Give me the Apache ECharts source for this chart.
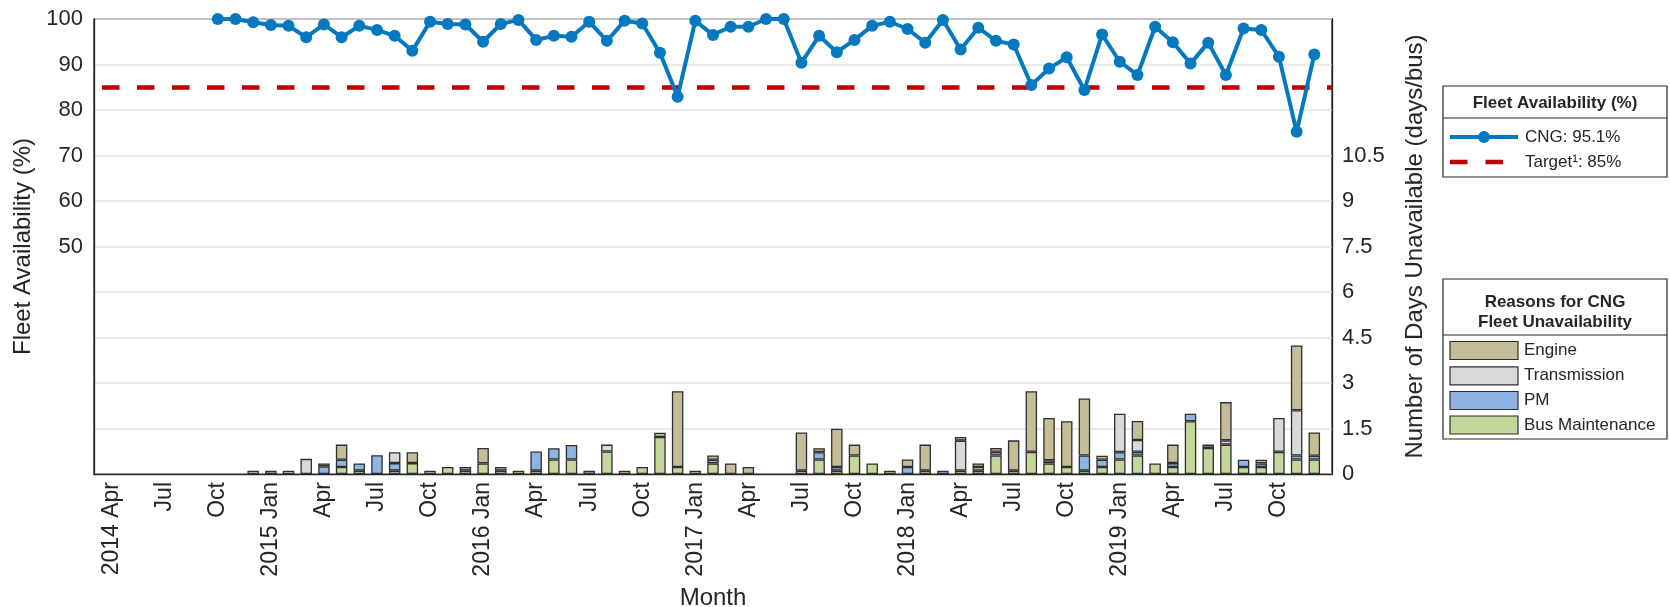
<!DOCTYPE html>
<html>
<head>
<meta charset="utf-8">
<script src="https://cdn.jsdelivr.net/npm/echarts@6/dist/echarts.min.js"></script>
<style>
  html, body { margin: 0; padding: 0; background: #fff; }
  #chart { width: 1670px; height: 607px; }
</style>
</head>
<body>
<div id="chart"></div>
<script>
// months on the x axis (Mar 2014 .. Jan 2020, ends are empty padding)
const months = [
  '2014-03', '2014-04', '2014-05', '2014-06', '2014-07', '2014-08', '2014-09', '2014-10', '2014-11', '2014-12',
  '2015-01', '2015-02', '2015-03', '2015-04', '2015-05', '2015-06', '2015-07', '2015-08', '2015-09', '2015-10', '2015-11', '2015-12',
  '2016-01', '2016-02', '2016-03', '2016-04', '2016-05', '2016-06', '2016-07', '2016-08', '2016-09', '2016-10', '2016-11', '2016-12',
  '2017-01', '2017-02', '2017-03', '2017-04', '2017-05', '2017-06', '2017-07', '2017-08', '2017-09', '2017-10', '2017-11', '2017-12',
  '2018-01', '2018-02', '2018-03', '2018-04', '2018-05', '2018-06', '2018-07', '2018-08', '2018-09', '2018-10', '2018-11', '2018-12',
  '2019-01', '2019-02', '2019-03', '2019-04', '2019-05', '2019-06', '2019-07', '2019-08', '2019-09', '2019-10', '2019-11', '2019-12',
  '2020-01'
];
const monthNames = ['Jan', 'Feb', 'Mar', 'Apr', 'May', 'Jun', 'Jul', 'Aug', 'Sep', 'Oct', 'Nov', 'Dec'];
const n = null;

// fleet availability (%)
const availability = [
  n, n, n, n, n, n, n, 100, 100, 99.3,
  98.7, 98.5, 96.0, 98.8, 96.0, 98.5, 97.6, 96.3, 93.0, 99.4, 98.9, 98.8,
  95.0, 98.9, 99.8, 95.4, 96.3, 96.1, 99.4, 95.2, 99.6, 99.0, 92.6, 82.9,
  99.6, 96.5, 98.3, 98.3, 100, 100, 90.4, 96.3, 92.7, 95.4, 98.5, 99.4,
  97.8, 94.8, 99.8, 93.3, 98.1, 95.2, 94.4, 85.5, 89.1, 91.6, 84.4, 96.6,
  90.6, 87.7, 98.3, 94.9, 90.2, 94.8, 87.7, 97.9, 97.6, 91.7, 75.2, 92.2,
  n
];
const target = 85;

// days unavailable per bus, by reason
const busMaintenance = [
  n, n, n, n, n, n, n, n, n, n,
  n, n, n, n, 0.23, 0.11, n, 0.11, 0.36, 0.11, 0.23, 0.11,
  0.35, 0.11, 0.11, 0.11, 0.48, 0.48, n, 0.74, 0.11, 0.23, 1.22, 0.23,
  0.11, 0.35, n, n, n, n, 0.11, 0.48, 0.11, 0.61, 0.35, 0.11,
  n, 0.11, n, 0.11, 0.11, 0.61, 0.11, 0.73, 0.35, 0.23, 0.11, 0.23,
  0.48, 0.61, 0.35, 0.23, 1.74, 0.86, 0.97, 0.23, 0.23, 0.73, 0.48, 0.48,
  n
];
const pm = [
  n, n, n, n, n, n, n, n, n, n,
  0.11, n, n, 0.25, 0.24, 0.24, 0.62, 0.25, n, n, n, 0.12,
  n, 0.12, n, 0.63, 0.37, 0.48, 0.11, n, n, n, n, n,
  n, 0.12, n, n, n, n, n, 0.24, 0.12, n, n, n,
  0.23, n, 0.11, n, n, 0.12, n, n, n, n, 0.5, 0.24,
  0.24, 0.12, n, 0.13, 0.25, n, n, 0.24, 0.12, n, 0.13, 0.12,
  n
];
const transmission = [
  n, n, n, n, n, n, n, n, n, 0.11,
  n, 0.11, 0.5, n, n, n, n, 0.36, n, n, n, n,
  n, n, n, n, n, n, n, 0.23, n, n, n, n,
  n, n, n, n, n, n, n, n, n, n, n, n,
  n, n, n, 0.99, 0.12, n, n, n, 0.1, n, n, n,
  1.27, 0.39, n, n, n, n, 0.14, n, n, 1.12, 1.49, n,
  n
];
const engine = [
  n, n, n, n, n, n, n, n, n, n,
  n, n, n, 0.1, 0.5, n, n, n, 0.36, n, n, n,
  0.51, n, n, n, n, n, n, n, n, n, 0.14, 2.5,
  n, 0.14, 0.35, 0.23, n, n, 1.26, 0.13, 1.26, 0.36, n, n,
  0.25, 0.86, n, 0.12, 0.12, 0.13, 1.0, 2.0, 1.4, 1.51, 1.88, 0.13,
  n, 0.63, n, 0.61, n, 0.11, 1.26, n, 0.12, n, 2.14, 0.77,
  n
];

const FONT = "'Liberation Sans', Arial, sans-serif";
const TXT = '#262626';
const COLORS = {
  cng: '#0479BF',
  target: '#C00000',
  engine: '#C4BD97',
  transmission: '#D9D9D9',
  pm: '#8DB4E2',
  busMaintenance: '#C4D79B'
};

function barSeries(name, data, color) {
  return {
    name: name,
    type: 'bar',
    stack: 'days',
    yAxisIndex: 1,
    data: data,
    barWidth: 11.5,
    itemStyle: { color: color, borderColor: '#2e2e2e', borderWidth: 1.3 },
    z: 2
  };
}

// legend boxes drawn by hand (MATLAB style)
const LX = 1443, LW = 224;
const legendGraphics = [
  { type: 'rect', shape: { x: LX, y: 86, width: LW, height: 91 },
    style: { fill: '#fff', stroke: '#262626', lineWidth: 1.2 } },
  { type: 'text', style: { text: 'Fleet Availability (%)', x: LX + LW / 2, y: 103, font: 'bold 17px ' + FONT,
    fill: TXT, align: 'center', verticalAlign: 'middle' } },
  { type: 'line', shape: { x1: LX, y1: 118, x2: LX + LW, y2: 118 }, style: { stroke: '#262626', lineWidth: 1.2 } },
  { type: 'line', shape: { x1: 1450, y1: 137, x2: 1518, y2: 137 }, style: { stroke: COLORS.cng, lineWidth: 4 } },
  { type: 'circle', shape: { cx: 1484, cy: 137, r: 6 }, style: { fill: COLORS.cng } },
  { type: 'text', style: { text: 'CNG: 95.1%', x: 1525, y: 137, font: '17px ' + FONT, fill: TXT, align: 'left', verticalAlign: 'middle' } },
  { type: 'line', shape: { x1: 1450, y1: 162, x2: 1518, y2: 162 },
    style: { stroke: COLORS.target, lineWidth: 4.5, lineDash: [17.5, 18] } },
  { type: 'text', style: { text: 'Target\u00B9: 85%', x: 1525, y: 162, font: '17px ' + FONT, fill: TXT, align: 'left', verticalAlign: 'middle' } },

  { type: 'rect', shape: { x: LX, y: 279, width: LW, height: 160 },
    style: { fill: '#fff', stroke: '#262626', lineWidth: 1.2 } },
  { type: 'text', style: { text: 'Reasons for CNG', x: LX + LW / 2, y: 302, font: 'bold 17px ' + FONT,
    fill: TXT, align: 'center', verticalAlign: 'middle' } },
  { type: 'text', style: { text: 'Fleet Unavailability', x: LX + LW / 2, y: 322, font: 'bold 17px ' + FONT,
    fill: TXT, align: 'center', verticalAlign: 'middle' } },
  { type: 'line', shape: { x1: LX, y1: 335, x2: LX + LW, y2: 335 }, style: { stroke: '#262626', lineWidth: 1.2 } }
];
[['Engine', COLORS.engine, 350.5], ['Transmission', COLORS.transmission, 375.8],
 ['PM', COLORS.pm, 400.5], ['Bus Maintenance', COLORS.busMaintenance, 425]].forEach(function (it) {
  legendGraphics.push({ type: 'rect', shape: { x: 1450, y: it[2] - 9, width: 68, height: 18 },
    style: { fill: it[1], stroke: '#2e2e2e', lineWidth: 1.2 } });
  legendGraphics.push({ type: 'text', style: { text: it[0], x: 1524, y: it[2], font: '17px ' + FONT,
    fill: TXT, align: 'left', verticalAlign: 'middle' } });
});

const chart = echarts.init(document.getElementById('chart'));
chart.setOption({
  animation: false,
  backgroundColor: '#fff',
  textStyle: { fontFamily: FONT },
  grid: { left: 94, right: 338, top: 19, bottom: 133, show: true, borderColor: '#262626', borderWidth: 1.3,
    containLabel: false, outerBoundsMode: 'none' },
  xAxis: {
    type: 'category',
    data: months,
    boundaryGap: false,
    axisLine: { lineStyle: { color: '#262626', width: 1.3 } },
    axisTick: { show: false },
    axisLabel: {
      rotate: 90,
      fontSize: 23,
      color: TXT,
      margin: 8,
      interval: function (idx) { return idx >= 1 && idx < months.length - 1 && (idx - 1) % 3 === 0; },
      formatter: function (v, idx) {
        const y = v.slice(0, 4), m = +v.slice(5, 7);
        const label = monthNames[m - 1];
        return (m === 1 || idx === 1) ? y + ' ' + label : label;
      }
    },
    splitLine: { show: false },
    name: 'Month',
    nameLocation: 'middle',
    nameGap: 112,
    nameTextStyle: { fontSize: 24, color: TXT }
  },
  yAxis: [
    {
      type: 'value',
      min: 0, max: 100, interval: 10,
      axisLine: { show: true, lineStyle: { color: '#262626', width: 1.3 } },
      axisTick: { show: false },
      axisLabel: { fontSize: 22, color: TXT, margin: 11,
        formatter: function (v) { return v >= 50 ? String(v) : ''; } },
      splitLine: { lineStyle: { color: '#E3E3E3', width: 1.5 } },
      name: 'Fleet Availability (%)',
      nameLocation: 'middle',
      nameGap: 54,
      nameTextStyle: { fontSize: 24, color: TXT }
    },
    {
      type: 'value',
      min: 0, max: 15, interval: 1.5,
      position: 'right',
      axisLine: { show: true, lineStyle: { color: '#262626', width: 1.3 } },
      axisTick: { show: false },
      axisLabel: { fontSize: 22, color: TXT, margin: 10,
        formatter: function (v) { return v <= 10.5 ? String(+v.toFixed(1)) : ''; } },
      splitLine: { show: false },
      name: 'Number of Days Unavailable (days/bus)',
      nameLocation: 'middle',
      nameRotate: 90,
      nameGap: 71,
      nameTextStyle: { fontSize: 24, color: TXT }
    }
  ],
  graphic: legendGraphics,
  series: [
    barSeries('Bus Maintenance', busMaintenance, COLORS.busMaintenance),
    barSeries('PM', pm, COLORS.pm),
    barSeries('Transmission', transmission, COLORS.transmission),
    barSeries('Engine', engine, COLORS.engine),
    {
      name: 'Target',
      type: 'line',
      data: [],
      z: 3,
      markLine: {
        silent: true,
        symbol: ['none', 'none'],
        label: { show: false },
        lineStyle: { color: COLORS.target, width: 4.5, type: [17.5, 17.5], dashOffset: 27 },
        data: [{ yAxis: target }]
      }
    },
    {
      name: 'CNG',
      type: 'line',
      yAxisIndex: 0,
      data: availability,
      symbol: 'circle',
      symbolSize: 12,
      showSymbol: true,
      showAllSymbol: true,
      lineStyle: { color: COLORS.cng, width: 4 },
      itemStyle: { color: COLORS.cng },
      z: 5
    }
  ]
});
</script>
</body>
</html>
